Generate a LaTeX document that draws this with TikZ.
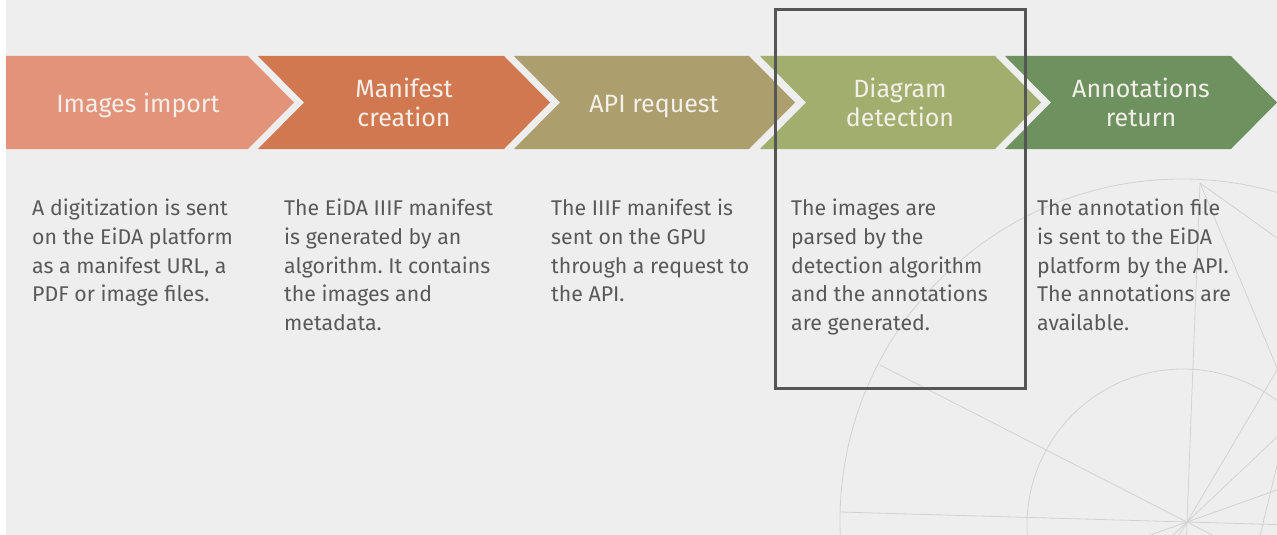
\documentclass[tikz,border=0pt]{standalone}
\usepackage{fontspec}
\setmainfont{Fira Sans}
\usetikzlibrary{calc}
\frenchspacing
\definecolor{bg}{HTML}{EEEEEE}
\definecolor{cA}{HTML}{E2937A}
\definecolor{cB}{HTML}{D17850}
\definecolor{cC}{HTML}{AD9E6E}
\definecolor{cD}{HTML}{A2AE6E}
\definecolor{cE}{HTML}{6E9160}
\definecolor{labtext}{HTML}{F3EFE9}
\definecolor{bodytext}{HTML}{595959}
\definecolor{decoline}{HTML}{D2D2D2}
\definecolor{boxcol}{HTML}{555555}
\tikzset{
  deco/.style={draw=decoline, line width=0.8pt},
  lab/.style={text=labtext, align=center, inner sep=0pt, font=\fontsize{25}{29}\selectfont},
  body/.style={text=bodytext, align=left, anchor=north west, inner sep=0pt, font=\fontsize{21.3}{28.7}\selectfont\frenchspacing},
  hlbox/.style={draw=boxcol, line width=3pt, inner sep=0pt}
}
\begin{document}
\begin{tikzpicture}[x=1pt,y=-1pt]
\useasboundingbox (0,0) rectangle (1277,535);
\fill[white] (0,0) rectangle (1277,535);
\fill[bg] (6,0) rectangle (1277,535);
% decorative compass drawing
\coordinate (O) at (1187,522);
\coordinate (V) at (1200,183);
\coordinate (P) at (880,365);
\coordinate (H) at (840,512);
\begin{scope}
\clip (6,0) rectangle (1277,535);
\draw[deco] (1182,521) circle[radius=342];
\draw[deco] (1183,525) circle[radius=156];
\draw[deco] (V) -- ($(V)!1.05!(O)$);
\draw[deco] (V) -- ($(V)!1.3!(1277,368)$);
\draw[deco] (V) -- ($(V)!1.3!(1277,238)$);
\draw[deco] (P) -- ($(P)!1.2!(O)$);
\draw[deco] (H) -- ($(H)!1.3!(O)$);
\draw[deco] ($(O)!-0.2!(1277,370)$) -- ($(O)!1.2!(1277,370)$);
\draw[deco] ($(O)!-0.2!(1277,437)$) -- ($(O)!1.2!(1277,437)$);
\draw[deco] ($(O)!-0.5!(1277,490)$) -- ($(O)!1.2!(1277,490)$);
\draw[deco] (1280,453) -- (1259,540);
\end{scope}
% chevrons
\fill[cA] (6,56) -- (248,56) -- (294,102.5) -- (248,149) -- (6,149) -- cycle;
\fill[cB] (258,56) -- (504,56) -- (550,102.5) -- (504,149) -- (258,149) -- (304,102.5) -- cycle;
\fill[cC] (514,56) -- (749,56) -- (795,102.5) -- (749,149) -- (514,149) -- (560,102.5) -- cycle;
\fill[cD] (760,56) -- (995,56) -- (1041,102.5) -- (995,149) -- (760,149) -- (806,102.5) -- cycle;
\fill[cE] (1005,56) -- (1231,56) -- (1277,102.5) -- (1231,149) -- (1005,149) -- (1051,102.5) -- cycle;
% chevron labels
\node[lab, anchor=base] (l1) at (138,112.5) {Images import};
\node[lab] (l2) at (404,102.5) {Manifest\\creation};
\node[lab, anchor=base] (l3) at (654,112.5) {API request};
\node[lab] (l4) at (900,102.5) {Diagram\\detection};
\node[lab] (l5) at (1141,102.5) {Annotations\\return};
% descriptions
\node[body] (t1) at (32,199) {A digitization is sent\\on the EiDA platform\\as a manifest URL, a\\PDF or image files.};
\node[body] (t2) at (284,199) {The EiDA IIIF manifest\\is generated by an\\algorithm. It contains\\the images and\\metadata.};
\node[body] (t3) at (551,199) {The IIIF manifest is\\sent on the GPU\\through a request to\\the API.};
\node[body] (t4) at (791,199) {The images are\\parsed by the\\detection algorithm\\and the annotations\\are generated.};
\node[body] (t5) at (1037,199) {The annotation file\\is sent to the EiDA\\platform by the API.\\The annotations are\\available.};
% highlight box
\node[hlbox, minimum width=250pt, minimum height=378pt] (hl) at (900,199) {};
\end{tikzpicture}
\end{document}
